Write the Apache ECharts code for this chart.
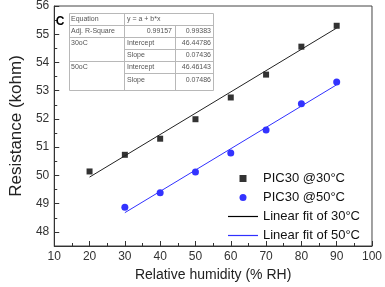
<!DOCTYPE html>
<html>
<head>
<meta charset="utf-8">
<script src="https://cdn.jsdelivr.net/npm/echarts@6/dist/echarts.min.js"></script>
<style>
  html, body { margin: 0; padding: 0; background: #fff; }
  #chart { width: 385px; height: 287px; }
</style>
</head>
<body>
<div id="chart"></div>
<script>
// measured points
const rh30 = [20, 30, 40, 50, 60, 70, 80, 90];
const res30 = [50.14, 50.73, 51.30, 51.99, 52.76, 53.57, 54.56, 55.30];
const rh50 = [30, 40, 50, 60, 70, 80, 90];
const res50 = [48.87, 49.39, 50.12, 50.79, 51.61, 52.54, 53.31];

// fitted line end points
const fit30X = [20, 90];
const fit30Y = [49.94, 55.22];
const fit50X = [30, 90];
const fit50Y = [48.68, 53.21];

const yTicks = [48, 49, 50, 51, 52, 53, 54, 55, 56];
const yMinorTicks = [48.5, 49.5, 50.5, 51.5, 52.5, 53.5, 54.5, 55.5];

const seriesNames = ['PIC30 @30°C', 'PIC30 @50°C', 'Linear fit of 30°C', 'Linear fit of 50°C'];

// inset table text: [text, x, y, align]
const tableCells = [
  ['Equation', 71, 19, 'left'],
  ['y = a + b*x', 127, 19, 'left'],
  ['Adj. R-Square', 71, 31, 'left'],
  ['0.99157', 172, 31, 'right'],
  ['0.99383', 211, 31, 'right'],
  ['30oC', 71, 43, 'left'],
  ['Intercept', 127, 43, 'left'],
  ['46.44786', 211, 43, 'right'],
  ['Slope', 127, 55, 'left'],
  ['0.07436', 211, 55, 'right'],
  ['50oC', 71, 67, 'left'],
  ['Intercept', 127, 67, 'left'],
  ['46.46143', 211, 67, 'right'],
  ['Slope', 127, 80, 'left'],
  ['0.07486', 211, 80, 'right']
];

const zip = (xs, ys) => xs.map((x, i) => [x, ys[i]]);

const chart = echarts.init(document.getElementById('chart'));

// table lines
const lineStyle = {stroke: '#b8b8b8', lineWidth: 1};
const tableLines = [
  [69, 25, 213, 25],
  [69, 37, 213, 37],
  [124, 49, 213, 49],
  [69, 61, 213, 61],
  [124, 73, 213, 73],
  [124, 13, 124, 90],
  [175, 25, 175, 90]
].map(l => ({
  type: 'line',
  shape: {x1: l[0] + 0.5, y1: l[1] + 0.5, x2: l[2] + 0.5, y2: l[3] + 0.5},
  style: lineStyle,
  z: 10
}));

const option = {
  animation: false,
  textStyle: {fontFamily: 'Liberation Sans'},
  grid: {
    left: 43, right: 10, top: 6, bottom: 37,
    show: true, borderColor: '#444', borderWidth: 1
  },
  legend: {
    orient: 'vertical',
    left: 223,
    top: 167,
    itemWidth: 30,
    itemHeight: 7,
    itemGap: 6,
    textStyle: {fontSize: 13, color: '#111'},
    data: [
      {name: seriesNames[0], icon: 'path://M0,0H1V1H0Z'},
      {name: seriesNames[1], icon: 'circle'},
      {name: seriesNames[2], icon: 'path://M0,0H30V1.2H0Z'},
      {name: seriesNames[3], icon: 'path://M0,0H30V1.2H0Z'}
    ]
  },
  xAxis: {
    type: 'value',
    min: 10, max: 100, interval: 10,
    name: 'Relative humidity (% RH)',
    nameLocation: 'middle',
    nameGap: 22,
    nameTextStyle: {fontSize: 14, color: '#222'},
    axisLine: {lineStyle: {color: '#333', width: 1}},
    axisTick: {inside: true, length: 5, lineStyle: {color: '#333'}},
    minorTick: {show: true, splitNumber: 2, length: 3, lineStyle: {color: '#333'}},
    axisLabel: {fontSize: 12, color: '#333', margin: 5},
    splitLine: {show: false}
  },
  yAxis: [{
    type: 'value',
    min: 47.5, max: 56,
    name: 'Resistance (kohm)',
    nameLocation: 'middle',
    nameGap: 24,
    nameTextStyle: {fontSize: 17, color: '#222'},
    axisLine: {show: true, lineStyle: {color: '#333', width: 1}},
    axisTick: {inside: true, length: 5, customValues: yTicks, lineStyle: {color: '#333'}},
    axisLabel: {fontSize: 12, color: '#333', margin: 5, customValues: yTicks},
    splitLine: {show: false}
  }, {
    type: 'value',
    position: 'left',
    min: 47.5, max: 56,
    axisLine: {show: false},
    axisTick: {show: true, inside: true, length: 3, customValues: yMinorTicks, lineStyle: {color: '#333'}},
    axisLabel: {show: false},
    splitLine: {show: false}
  }],
  graphic: [
    {
      type: 'rect',
      shape: {x: 69.5, y: 13.5, width: 144, height: 77},
      style: {fill: '#fff', stroke: '#b8b8b8', lineWidth: 1},
      z: 10
    },
    ...tableLines,
    ...tableCells.map(c => ({
      type: 'text',
      x: c[1], y: c[2],
      style: {
        text: c[0], align: c[3], verticalAlign: 'middle',
        font: '7px "Liberation Sans"', fill: '#555'
      },
      z: 11
    })),
    {
      type: 'text',
      x: 60, y: 22,
      style: {
        text: 'C', align: 'center', verticalAlign: 'middle',
        font: 'bold 12px "Liberation Sans"', fill: '#000'
      },
      z: 11
    }
  ],
  series: [
    {
      name: seriesNames[2],
      type: 'line',
      data: zip(fit30X, fit30Y),
      showSymbol: false,
      color: '#000',
      lineStyle: {width: 1, color: '#222'}
    },
    {
      name: seriesNames[3],
      type: 'line',
      data: zip(fit50X, fit50Y),
      showSymbol: false,
      color: '#3030ff',
      lineStyle: {width: 1, color: '#3030ff'}
    },
    {
      name: seriesNames[0],
      type: 'scatter',
      symbol: 'rect',
      symbolSize: 6,
      data: zip(rh30, res30),
      itemStyle: {color: '#000'}
    },
    {
      name: seriesNames[1],
      type: 'scatter',
      symbol: 'circle',
      symbolSize: 7,
      data: zip(rh50, res50),
      itemStyle: {color: '#0000ff'}
    }
  ]
};

chart.setOption(option);
</script>
</body>
</html>
